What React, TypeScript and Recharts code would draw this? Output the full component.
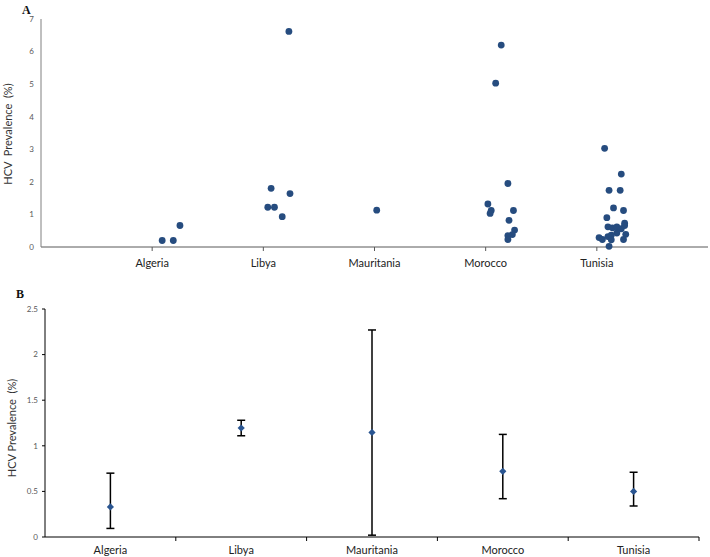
import { ScatterChart, Scatter, XAxis, YAxis, ErrorBar } from 'recharts';

const countries = ['Algeria', 'Libya', 'Mauritania', 'Morocco', 'Tunisia'];

// panel A: individual study prevalences (x = country index + jitter)
const algeriaPts = [
  { x: 1.09, y: 0.2 },
  { x: 1.19, y: 0.2 },
  { x: 1.25, y: 0.66 },
];
const libyaPts = [
  { x: 2.23, y: 6.62 },
  { x: 2.07, y: 1.8 },
  { x: 2.24, y: 1.64 },
  { x: 2.04, y: 1.22 },
  { x: 2.1, y: 1.22 },
  { x: 2.17, y: 0.93 },
];
const mauritaniaPts = [{ x: 3.02, y: 1.13 }];
const moroccoPts = [
  { x: 4.14, y: 6.2 },
  { x: 4.09, y: 5.03 },
  { x: 4.2, y: 1.95 },
  { x: 4.02, y: 1.32 },
  { x: 4.05, y: 1.12 },
  { x: 4.04, y: 1.03 },
  { x: 4.25, y: 1.12 },
  { x: 4.21, y: 0.82 },
  { x: 4.26, y: 0.52 },
  { x: 4.24, y: 0.38 },
  { x: 4.2, y: 0.35 },
  { x: 4.2, y: 0.23 },
];
const tunisiaPts = [
  { x: 5.07, y: 3.03 },
  { x: 5.22, y: 2.24 },
  { x: 5.11, y: 1.74 },
  { x: 5.21, y: 1.74 },
  { x: 5.15, y: 1.2 },
  { x: 5.24, y: 1.12 },
  { x: 5.09, y: 0.9 },
  { x: 5.1, y: 0.62 },
  { x: 5.14, y: 0.59 },
  { x: 5.18, y: 0.62 },
  { x: 5.25, y: 0.73 },
  { x: 5.22, y: 0.56 },
  { x: 5.25, y: 0.66 },
  { x: 5.18, y: 0.43 },
  { x: 5.26, y: 0.39 },
  { x: 5.02, y: 0.29 },
  { x: 5.05, y: 0.23 },
  { x: 5.1, y: 0.32 },
  { x: 5.13, y: 0.36 },
  { x: 5.13, y: 0.22 },
  { x: 5.24, y: 0.23 },
  { x: 5.11, y: 0.02 },
];

// panel B: pooled estimate with 95% CI
const pooledMean = [0.33, 1.195, 1.147, 0.72, 0.5];
const ciLow = [0.094, 1.11, 0.02, 0.42, 0.34];
const ciHigh = [0.7, 1.28, 2.27, 1.125, 0.71];

const ticksA = [0, 1, 2, 3, 4, 5, 6, 7];
const ticksB = [0, 0.5, 1, 1.5, 2, 2.5];

const pooledData = countries.map((c, i) => ({
  name: c,
  x: i + 0.5,
  y: pooledMean[i],
  err: [pooledMean[i] - ciLow[i], ciHigh[i] - pooledMean[i]],
}));

const scatterA = [...algeriaPts, ...libyaPts, ...mauritaniaPts, ...moroccoPts, ...tunisiaPts];

const FONT = 'Lato, "Open Sans", sans-serif';
const DOT = '#264c7f';

// panel B plot geometry (used only to place the band-boundary tick marks)
const B_W = 710;
const B_YAXIS = 45;
const B_RIGHT = 11;
const halfBand = (B_W - B_YAXIS - B_RIGHT) / countries.length / 2;

const Dot = (props: any) => <circle cx={props.cx} cy={props.cy} r={3.4} fill={DOT} />;

const Diamond = (props: any) => {
  const { cx, cy } = props;
  const s = 3.6;
  return <path d={`M${cx},${cy - s}L${cx + s},${cy}L${cx},${cy + s}L${cx - s},${cy}Z`} fill="#2a5591" />;
};

const BandTick = (props: any) => {
  const { x, y, payload } = props;
  return (
    <g>
      <line x1={x + halfBand} y1={y} x2={x + halfBand} y2={y + 4} stroke="#000" />
      <text x={x} y={y + 17} textAnchor="middle" fill="#222" fontSize={11} fontFamily={FONT}>
        {countries[Math.floor(payload.value)]}
      </text>
    </g>
  );
};

const titleStyle = (x: number, y: number): React.CSSProperties => ({
  position: 'absolute',
  left: x,
  top: y,
  transform: 'translate(-50%, -50%) rotate(-90deg)',
  whiteSpace: 'pre',
  fontFamily: FONT,
  fontSize: 11,
  color: '#333',
});

const letterStyle = (x: number, y: number): React.CSSProperties => ({
  position: 'absolute',
  left: x,
  top: y,
  fontFamily: '"Liberation Serif", serif',
  fontWeight: 'bold',
  fontSize: 12,
  lineHeight: '12px',
  color: '#111',
});

export default function App() {
  return (
    <div style={{ position: 'absolute', left: 0, top: 0, width: 710, height: 557, background: '#fff' }}>
      <div style={{ position: 'absolute', left: 0, top: 0 }}>
        <ScatterChart width={710} height={280} margin={{ top: 19, right: 2, bottom: 0, left: 0 }}>
          <XAxis
            type="number"
            dataKey="x"
            domain={[0, 6]}
            ticks={[1, 2, 3, 4, 5]}
            tickFormatter={(v: number) => countries[v - 1] ?? ''}
            height={33}
            stroke="#595959"
            tickSize={4}
            tickMargin={8}
            tick={{ fill: '#222', fontSize: 11, fontFamily: FONT }}
          />
          <YAxis
            type="number"
            dataKey="y"
            domain={[0, 7]}
            ticks={ticksA}
            width={41}
            stroke="#808080"
            tickLine={false}
            tickSize={6}
            tickMargin={1}
            tick={{ fill: '#595959', fontSize: 8, fontFamily: FONT }}
          />
          <Scatter data={scatterA} shape={Dot} isAnimationActive={false} />
        </ScatterChart>
      </div>
      <div style={{ position: 'absolute', left: 0, top: 280 }}>
        <ScatterChart width={B_W} height={277} margin={{ top: 29, right: B_RIGHT, bottom: 0, left: 0 }}>
          <XAxis
            type="number"
            dataKey="x"
            domain={[0, countries.length]}
            ticks={pooledData.map((d) => d.x)}
            height={20}
            stroke="#000"
            tickLine={false}
            tickSize={0}
            tickMargin={0}
            tick={<BandTick />}
          />
          <YAxis
            type="number"
            dataKey="y"
            domain={[0, 2.5]}
            ticks={ticksB}
            width={B_YAXIS}
            stroke="#000"
            tickSize={3}
            tickMargin={4}
            tick={{ fill: '#595959', fontSize: 8, fontFamily: FONT }}
          />
          <Scatter data={pooledData} shape={Diamond} isAnimationActive={false}>
            <ErrorBar dataKey="err" direction="y" width={4} stroke="#000" strokeWidth={1.5} />
          </Scatter>
        </ScatterChart>
      </div>
      <div style={letterStyle(22, 4)}>A</div>
      <div style={letterStyle(16, 288)}>B</div>
      <div style={titleStyle(7, 134)}>{'HCV  Prevalence  (%)'}</div>
      <div style={titleStyle(11, 428)}>{'HCV Prevalence  (%)'}</div>
    </div>
  );
}
